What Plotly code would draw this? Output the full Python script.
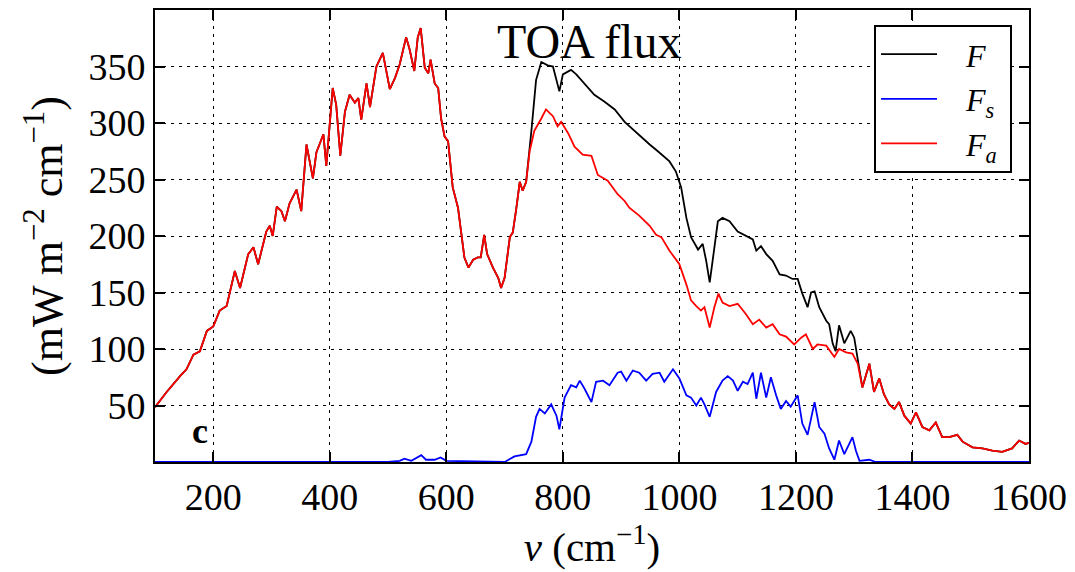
import plotly.graph_objects as go

# Shared part (F and F_a coincide), wavenumber in cm^-1, flux in mW m^-2 cm^-1
nu_low = [100, 120, 143, 154, 166, 177, 189, 200, 211, 223, 237, 246, 260, 269, 277,
          291, 297, 302, 309, 317, 323, 331, 343, 351, 360, 371, 377, 389, 394, 405,
          411, 418, 426, 434, 443, 449, 454, 463, 469, 480, 491, 503, 512, 520, 531,
          537, 545, 551, 556, 563, 569, 573, 580, 586, 591, 597, 603, 611, 620, 626,
          631, 638, 646, 654, 659, 665, 670, 680, 689, 694, 700, 709, 714, 720, 726,
          731, 737]
flux_low = [48.5, 62, 76, 82, 95, 98, 116, 120, 134, 138, 169, 154, 184, 190, 175,
            204, 209, 200, 226, 222, 213, 229, 241, 222, 281, 251, 274, 290, 262, 331,
            316, 271, 310, 325, 318, 322, 303, 335, 314, 350, 362, 330, 340, 352, 376,
            365, 346, 376, 384, 349, 344, 356, 335, 331, 304, 288, 284, 243, 225, 199,
            181, 172, 179, 181, 181, 201, 184, 172, 163, 154, 163, 199, 203, 224, 248,
            240, 248]

# Total flux F where it departs from F_a
nu_F_high = [746, 754, 763, 774, 783, 794, 800, 814, 823, 837, 854, 871, 889, 906, 925,
             949, 963, 983, 994, 1003, 1012, 1020, 1032, 1040, 1046, 1052, 1057, 1066,
             1074, 1086, 1100, 1114, 1126, 1132, 1140, 1149, 1160, 1172, 1183, 1194,
             1203, 1211, 1220, 1226, 1232, 1240, 1252, 1257, 1263, 1268, 1274, 1283,
             1294, 1300, 1306]
F_high = [293, 338, 354, 351, 350, 328, 343, 347, 343, 335, 325, 319, 312, 301, 292,
          281, 275, 266, 257, 243, 216, 199, 188, 193, 178, 159, 178, 213,
          216, 213, 204, 200, 197, 187, 191, 184, 178, 166, 165, 162,
          162, 149, 137, 150, 151, 137, 125, 122, 105, 98, 121, 105,
          116, 110, 90]

# Atmospheric part F_a beyond the shared region
nu_Fa_mid = [743, 751, 763, 771, 783, 791, 797, 809, 820, 834, 849, 860, 877, 894, 906,
             914, 931, 949, 960, 969, 983, 1000, 1012, 1020, 1029, 1037, 1043, 1052,
             1060, 1067, 1074, 1086, 1100, 1114, 1126, 1137, 1149, 1160, 1172, 1183,
             1197, 1209, 1217, 1229, 1237, 1252, 1266, 1274, 1286, 1297, 1306]
Fa_mid = [275, 293, 304, 312, 306, 297, 301, 291, 279, 272, 271, 254, 249, 237, 231,
          225, 218, 209, 201, 199, 187, 175, 157, 143, 138, 134, 137, 119,
          137, 149, 141, 138, 140, 131, 122, 126, 119, 122, 113, 111,
          104, 110, 113, 100, 104, 103, 93, 100, 97, 96, 87]
nu_tail = [1314, 1326, 1334, 1343, 1351, 1360, 1369, 1377, 1386, 1397, 1406, 1417,
           1429, 1440, 1451, 1463, 1477, 1486, 1503, 1520, 1537, 1554, 1571, 1583,
           1594, 1600]
flux_tail = [66, 87, 62, 74, 60, 51, 47, 53, 41, 34, 44, 31,
             28, 35, 22, 22, 24, 18, 13, 12, 10, 9, 12, 19,
             16, 17]

# Surface part F_s
nu_Fs = [100, 500, 520, 528, 540, 557, 565, 580, 590, 600, 700, 717, 737, 746, 754,
         760, 769, 780, 789, 794, 803, 814, 823, 829, 837, 849, 857, 869, 880, 894,
         900, 909, 920, 931, 943, 954, 966, 974, 989, 1000, 1012, 1020, 1029, 1037,
         1043, 1052, 1063, 1074, 1083, 1092, 1100, 1109, 1117, 1126, 1132, 1140,
         1149, 1157, 1166, 1174, 1183, 1191, 1203, 1211, 1220, 1226, 1232, 1240,
         1249, 1257, 1266, 1274, 1283, 1297, 1303, 1309, 1326, 1337, 1600]
Fs = [0, 0, 1, 3, 1, 6, 2, 2, 4, 1, 0, 5, 7, 18, 40,
      47, 43, 51, 41, 29, 57, 68, 66, 72, 65, 53, 71, 72, 68, 79,
      80, 72, 81, 79, 72, 78, 79, 71, 82, 74, 59, 57, 50, 57,
      51, 40, 62, 72, 76, 72, 63, 71, 69, 79, 56, 79,
      57, 75, 59, 47, 54, 49, 59, 34, 24, 40, 53, 31,
      25, 12, 2, 19, 7, 22, 10, 1, 2, 0, 0]

x_ticks = [200, 400, 600, 800, 1000, 1200, 1400, 1600]
y_ticks = [50, 100, 150, 200, 250, 300, 350]

F_x = nu_low + nu_F_high + nu_tail
F_y = flux_low + F_high + flux_tail
Fa_x = nu_low + nu_Fa_mid + nu_tail
Fa_y = flux_low + Fa_mid + flux_tail

FONT = "Liberation Serif"
PAD = "\u00a0\u00a0\u00a0"
TRAIL = "\u00a0"

fig = go.Figure()
fig.add_trace(go.Scatter(x=F_x, y=F_y, mode="lines", name=PAD + "<i>F</i>" + TRAIL,
                         line=dict(color="#000000", width=1.8)))
fig.add_trace(go.Scatter(x=nu_Fs, y=Fs, mode="lines",
                         name=PAD + "<i>F<sub>s</sub></i>" + TRAIL,
                         line=dict(color="#0000ff", width=1.8)))
fig.add_trace(go.Scatter(x=Fa_x, y=Fa_y, mode="lines",
                         name=PAD + "<i>F<sub>a</sub></i>" + TRAIL,
                         line=dict(color="#ff0000", width=1.8)))

axis_common = dict(showline=True, linecolor="black", linewidth=2, mirror="ticks",
                   ticks="inside", ticklen=10, tickwidth=1.5, tickcolor="black",
                   showgrid=True, gridcolor="black", gridwidth=1, griddash="3px,5px",
                   zeroline=False, tickfont=dict(family=FONT, size=38, color="black"))

fig.update_xaxes(range=[100, 1600], tickvals=x_ticks, ticktext=[str(v) for v in x_ticks],
                 title=dict(text="<i>ν</i> (cm<sup>−1</sup>)", standoff=6,
                            font=dict(family=FONT, size=41, color="black")),
                 **axis_common)
fig.update_yaxes(range=[0, 400], tickvals=y_ticks, ticktext=[str(v) for v in y_ticks],
                 title=dict(text="(mW m<sup>−2</sup> cm<sup>−1</sup>)", standoff=12,
                            font=dict(family=FONT, size=44, color="black")),
                 **axis_common)

fig.add_annotation(text="TOA flux", xref="paper", yref="paper", x=0.497, y=0.93,
                   xanchor="center", yanchor="middle", showarrow=False,
                   font=dict(family=FONT, size=48, color="black"))
fig.add_annotation(text="<b>c</b>", xref="x", yref="y", x=177, y=27,
                   xanchor="center", yanchor="middle", showarrow=False,
                   font=dict(family=FONT, size=36, color="black"))

fig.update_layout(
    width=1075, height=572,
    margin=dict(l=155, r=45, t=8, b=110),
    paper_bgcolor="white", plot_bgcolor="white",
    showlegend=True,
    legend=dict(x=0.9806, y=0.967, xanchor="right", yanchor="top",
                bgcolor="white", bordercolor="black", borderwidth=2,
                font=dict(family=FONT, size=32, color="black"),
                itemwidth=56, tracegroupgap=0),
)

fig.write_html("out.html")
